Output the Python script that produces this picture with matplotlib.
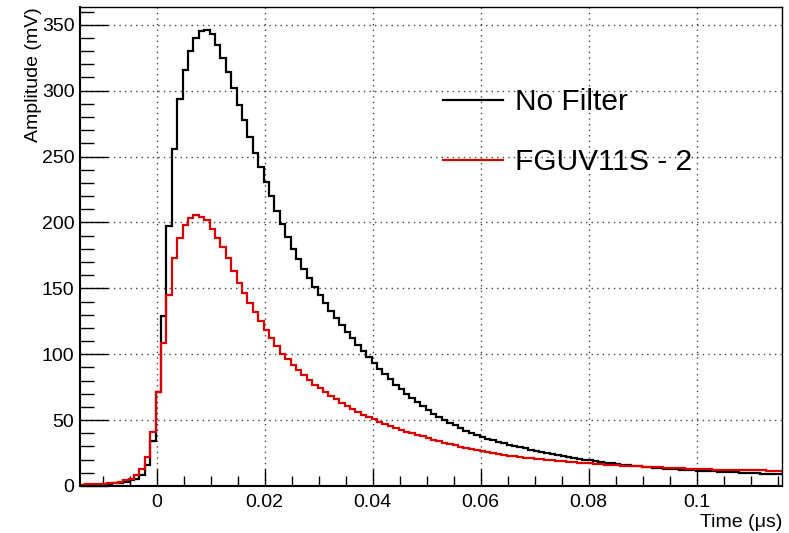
import numpy as np
import matplotlib
matplotlib.use("Agg")
import matplotlib.pyplot as plt
from matplotlib.ticker import MultipleLocator

plt.rcParams['font.family'] = ['Liberation Sans', 'DejaVu Sans']

# histogram binning (time in microseconds)
t_start = -0.0142
bin_width = 0.001

no_filter = [
    0.5, 0.6, 0.8, 1.0, 1.2, 1.5, 2.0, 2.6, 3.3, 4.3,
    5.5, 8.6, 16, 34, 71, 129, 197, 256, 294, 316,
    330, 340, 345, 346, 343, 335, 325, 314, 302, 289,
    278, 265, 253, 242, 231, 220, 209, 199, 189, 180,
    172, 165, 158, 151, 145, 139, 133, 127.5, 122, 117,
    112, 107, 102.5, 98, 93.5, 89, 85, 81, 77, 73.5,
    70, 67, 64, 61, 58, 55, 52.5, 50, 48, 46,
    44, 42, 40.5, 39, 37.5, 36, 34.8, 33.6, 32.5, 31.4,
    30.4, 29.4, 28.5, 27.6, 26.7, 25.9, 25.0, 24.2, 23.4, 22.7,
    22.0, 21.2, 20.6, 20.0, 19.4, 18.8, 18.2, 17.6, 17.1, 16.6,
    16.1, 15.6, 15.2, 14.8, 14.4, 14.1, 13.8, 13.5, 13.2, 12.9,
    12.7, 12.4, 12.2, 11.9, 11.7, 11.5, 11.3, 11.1, 10.9, 10.7,
    10.5, 10.3, 10.1, 9.9, 9.7, 9.5, 9.3, 9.15, 9.0, 8.9,
]

fguv11s = [
    1.0, 1.2, 1.4, 1.6, 1.8, 2.1, 2.5, 3.2, 4.2, 5.6,
    8.6, 12.9, 22, 40.6, 71, 108.6, 145, 172.7, 188.5, 198,
    203.4, 205.5, 204.5, 201.7, 195.3, 188.5, 181, 172.8, 163, 154,
    146.6, 139, 132, 125, 118.5, 112, 106, 100.5, 96, 92,
    88, 84, 80.5, 77, 74, 71, 68.3, 65.7, 63.2, 60.8,
    58.5, 56.3, 54.2, 52.3, 50.5, 48.8, 47.2, 45.6, 44.1, 42.7,
    41.3, 40.0, 38.8, 37.6, 36.3, 35.1, 34.0, 32.9, 31.8, 30.8,
    29.8, 28.9, 28.0, 27.1, 26.3, 25.6, 24.9, 24.3, 23.7, 23.1,
    22.6, 22.1, 21.6, 21.1, 20.6, 20.2, 19.8, 19.4, 19.0, 18.6,
    18.3, 18.0, 17.7, 17.4, 17.1, 16.8, 16.5, 16.2, 15.9, 15.7,
    15.5, 15.3, 15.1, 14.9, 14.7, 14.5, 14.3, 14.1, 13.9, 13.7,
    13.5, 13.3, 13.1, 12.95, 12.8, 12.7, 12.6, 12.5, 12.4, 12.3,
    12.2, 12.1, 12.0, 11.95, 11.9, 11.85, 11.8, 11.75, 11.7, 11.65,
]

labels = ['No Filter', 'FGUV11S - 2']

edges = t_start + bin_width * np.arange(len(no_filter) + 1)

W, H = 789, 533
fig = plt.figure(figsize=(W / 100, H / 100), dpi=100)
ax = fig.add_axes([80 / W, (H - 486) / H, (782 - 80) / W, (486 - 7) / H])

ax.stairs(no_filter, edges, baseline=None, color='black', lw=1.6, label=labels[0])
ax.stairs(fguv11s, edges, baseline=None, color='#dd0000', lw=1.6, label=labels[1])

ax.set_xlim(edges[0], edges[-1])
ax.set_ylim(0, 363.5)

ax.xaxis.set_major_locator(MultipleLocator(0.02))
ax.xaxis.set_minor_locator(MultipleLocator(0.005))
ax.yaxis.set_major_locator(MultipleLocator(50))
ax.yaxis.set_minor_locator(MultipleLocator(10))
ax.set_xticks([0, 0.02, 0.04, 0.06, 0.08, 0.1])
ax.set_xticklabels(['0', '0.02', '0.04', '0.06', '0.08', '0.1'])

ax.tick_params(axis='both', which='both', direction='in', top=False, right=False,
               labelsize=14, width=1)
ax.tick_params(axis='x', which='major', length=12, pad=6)
ax.tick_params(axis='x', which='minor', length=7)
ax.tick_params(axis='y', which='major', length=20, pad=4)
ax.tick_params(axis='y', which='minor', length=10)

ax.grid(True, which='major', linestyle=(0, (1, 3)), color='#444444', lw=1)
ax.set_axisbelow(True)
for sp in ax.spines.values():
    sp.set_linewidth(1)
ax.spines['left'].set_linewidth(1.5)
ax.spines['bottom'].set_linewidth(1.5)

ax.set_xlabel('Time (μs)', loc='right', fontsize=14, labelpad=2)
ax.set_ylabel('Amplitude (mV)', loc='top', fontsize=14, labelpad=0)

ax.legend(loc='upper left', bbox_to_anchor=(443 / W, 1 - 88 / H),
          bbox_transform=fig.transFigure, frameon=False, fontsize=21.5,
          handlelength=2.0, handletextpad=0.4, labelspacing=1.08,
          borderpad=0, borderaxespad=0)

fig.savefig('out.png', dpi=100)
